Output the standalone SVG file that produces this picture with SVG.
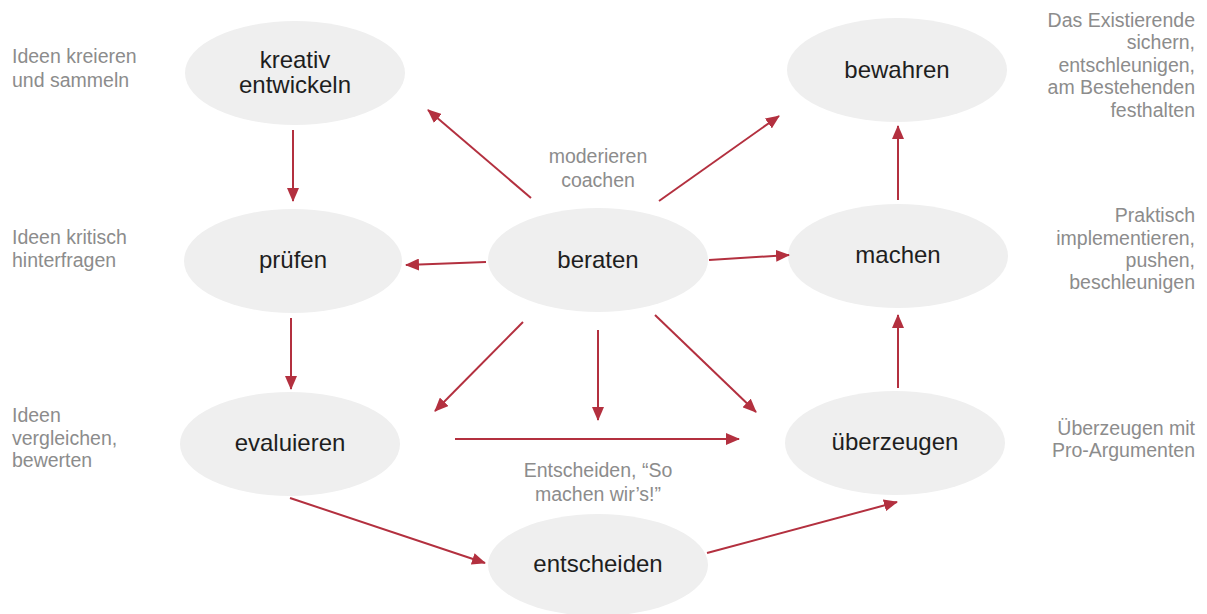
<svg xmlns="http://www.w3.org/2000/svg" width="1207" height="614" viewBox="0 0 1207 614">
<style>
.node{fill:#efefef;}
.lbl{font-family:"Liberation Sans",Arial,sans-serif;font-size:24px;fill:#1e1e1e;text-anchor:middle;}
.note{font-family:"Liberation Sans",Arial,sans-serif;font-size:19.5px;fill:#8c8c8c;}
.mid{text-anchor:middle;}
.end{text-anchor:end;}
.edge{stroke:#b3303f;stroke-width:2;fill:none;marker-end:url(#ah);}
</style>
<defs>
<marker id="ah" markerUnits="userSpaceOnUse" markerWidth="14" markerHeight="12" refX="13" refY="6" orient="auto">
<path d="M0,0 L14,6 L0,12 Z" fill="#b3303f"/>
</marker>
</defs>
<rect width="1207" height="614" fill="#ffffff"/>

<g id="n-kreativ"><ellipse class="node" cx="295" cy="73" rx="110" ry="52"/><text class="lbl" x="295" y="68">kreativ</text><text class="lbl" x="295" y="93">entwickeln</text></g>
<g id="n-bewahren"><ellipse class="node" cx="897" cy="70" rx="110" ry="52"/><text class="lbl" x="897" y="78">bewahren</text></g>
<g id="n-pruefen"><ellipse class="node" cx="293" cy="261" rx="109" ry="52"/><text class="lbl" x="293" y="268">prüfen</text></g>
<g id="n-beraten"><ellipse class="node" cx="598" cy="260" rx="110" ry="52"/><text class="lbl" x="598" y="268">beraten</text></g>
<g id="n-machen"><ellipse class="node" cx="898" cy="256" rx="110" ry="52"/><text class="lbl" x="898" y="263">machen</text></g>
<g id="n-evaluieren"><ellipse class="node" cx="290" cy="444" rx="110" ry="52"/><text class="lbl" x="290" y="451">evaluieren</text></g>
<g id="n-ueberzeugen"><ellipse class="node" cx="895" cy="443" rx="110" ry="52"/><text class="lbl" x="895" y="450">überzeugen</text></g>
<g id="n-entscheiden"><ellipse class="node" cx="598" cy="565" rx="110" ry="51"/><text class="lbl" x="598" y="572">entscheiden</text></g>

<g id="notes">
<text class="note" x="12" y="63">Ideen kreieren</text>
<text class="note" x="12" y="87">und sammeln</text>
<text class="note" x="12" y="244">Ideen kritisch</text>
<text class="note" x="12" y="267">hinterfragen</text>
<text class="note" x="12" y="422">Ideen</text>
<text class="note" x="12" y="445">vergleichen,</text>
<text class="note" x="12" y="467">bewerten</text>
<text class="note end" x="1195" y="27">Das Existierende</text>
<text class="note end" x="1195" y="49">sichern,</text>
<text class="note end" x="1195" y="72">entschleunigen,</text>
<text class="note end" x="1195" y="94">am Bestehenden</text>
<text class="note end" x="1195" y="117">festhalten</text>
<text class="note end" x="1195" y="222">Praktisch</text>
<text class="note end" x="1195" y="245">implementieren,</text>
<text class="note end" x="1195" y="267">pushen,</text>
<text class="note end" x="1195" y="289">beschleunigen</text>
<text class="note end" x="1195" y="435">Überzeugen mit</text>
<text class="note end" x="1195" y="457">Pro-Argumenten</text>
<text class="note mid" x="598" y="163">moderieren</text>
<text class="note mid" x="598" y="187">coachen</text>
<text class="note mid" x="598" y="477">Entscheiden, “So</text>
<text class="note mid" x="598" y="501">machen wir’s!”</text>
</g>

<g id="connectors">
<line class="edge" x1="293" y1="130" x2="293" y2="201"/>
<line class="edge" x1="291" y1="318" x2="291" y2="389"/>
<line class="edge" x1="531" y1="198" x2="428" y2="110"/>
<line class="edge" x1="659" y1="201" x2="779" y2="116"/>
<line class="edge" x1="486" y1="262" x2="406" y2="265"/>
<line class="edge" x1="709" y1="260" x2="789" y2="255"/>
<line class="edge" x1="523" y1="322" x2="435" y2="411"/>
<line class="edge" x1="598" y1="330" x2="598" y2="420"/>
<line class="edge" x1="655" y1="315" x2="756" y2="412"/>
<line class="edge" x1="455" y1="439" x2="739" y2="439"/>
<line class="edge" x1="290" y1="498" x2="485" y2="563"/>
<line class="edge" x1="707" y1="553" x2="897" y2="502"/>
<line class="edge" x1="898" y1="200" x2="898" y2="126"/>
<line class="edge" x1="898" y1="388" x2="898" y2="315"/>
</g>
</svg>
